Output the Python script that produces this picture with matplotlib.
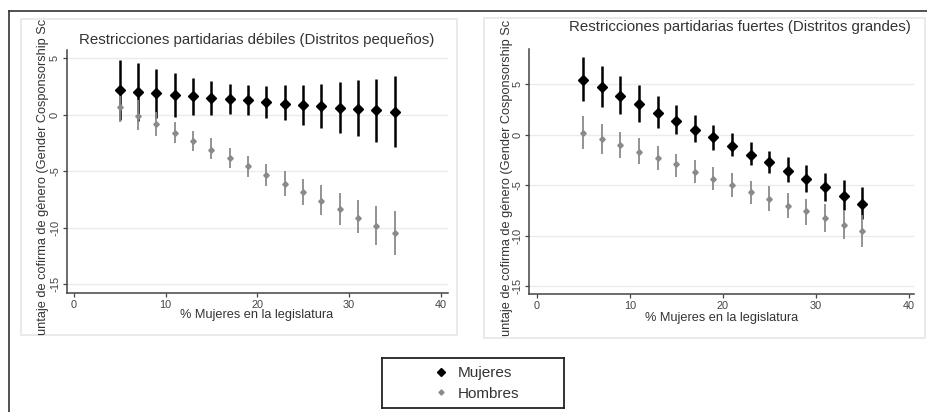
import matplotlib
matplotlib.use("Agg")
import matplotlib.pyplot as plt
from matplotlib.lines import Line2D
from matplotlib.patches import Rectangle

plt.rcParams['font.family'] = ['Liberation Sans', 'DejaVu Sans']
plt.rcParams['axes.unicode_minus'] = False

# ---------------- data ----------------
pct_mujeres = [5, 7, 9, 11, 13, 15, 17, 19, 21, 23, 25, 27, 29, 31, 33, 35]

left_muj = [2.17, 1.99, 1.90, 1.73, 1.64, 1.49, 1.40, 1.28, 1.16, 0.95, 0.86, 0.74, 0.65, 0.50, 0.39, 0.21]
left_muj_hi = [4.85, 4.55, 4.10, 3.66, 3.30, 3.00, 2.77, 2.68, 2.59, 2.68, 2.68, 2.77, 2.92, 3.07, 3.20, 3.48]
left_muj_lo = [-0.50, -0.57, -0.30, -0.20, 0.00, 0.00, 0.05, -0.05, -0.25, -0.50, -0.86, -1.19, -1.64, -1.90, -2.44, -2.83]

left_hom = [0.68, -0.06, -0.80, -1.60, -2.29, -3.07, -3.78, -4.49, -5.33, -6.10, -6.85, -7.59, -8.30, -9.10, -9.88, -10.50]
left_hom_hi = [2.10, 1.28, 0.24, -0.65, -1.46, -2.08, -2.95, -3.66, -4.32, -4.97, -5.65, -6.22, -6.90, -7.53, -8.10, -8.54]
left_hom_lo = [-0.65, -1.34, -1.85, -2.53, -3.24, -3.93, -4.67, -5.50, -6.34, -7.17, -8.00, -8.84, -9.73, -10.50, -11.50, -12.40]

right_muj = [5.46, 4.74, 3.87, 3.01, 2.15, 1.32, 0.50, -0.26, -1.16, -1.99, -2.72, -3.58, -4.37, -5.20, -6.06, -6.85]
right_muj_hi = [7.72, 6.79, 5.86, 4.93, 3.87, 2.95, 1.92, 0.96, 0.17, -0.76, -1.59, -2.25, -3.01, -3.77, -4.47, -5.20]
right_muj_lo = [3.38, 2.72, 2.05, 1.29, 0.63, 0.03, -0.70, -1.49, -2.15, -2.98, -3.81, -4.67, -5.66, -6.62, -7.50, -8.40]

right_hom = [0.17, -0.43, -1.06, -1.75, -2.35, -2.95, -3.71, -4.37, -5.03, -5.70, -6.36, -7.02, -7.58, -8.28, -9.00, -9.57]
right_hom_hi = [1.82, 1.03, 0.23, -0.36, -1.09, -1.89, -2.48, -3.15, -3.84, -4.54, -5.07, -5.73, -6.36, -6.85, -7.45, -7.95]
right_hom_lo = [-1.39, -1.92, -2.35, -2.95, -3.54, -4.20, -4.83, -5.53, -6.19, -6.85, -7.52, -8.24, -9.00, -9.67, -10.36, -11.16]

titles = ["Restricciones partidarias débiles (Distritos pequeños)",
          "Restricciones partidarias fuertes (Distritos grandes)"]
xlabel_text = "% Mujeres en la legislatura"
ylabel_text = "untaje de cofirma de género (Gender Cosponsorship Sc"
legend_labels = ["Mujeres", "Hombres"]
x_ticks = [0, 10, 20, 30, 40]
y_ticks = [-15, -10, -5, 0, 5]

# ---------------- layout ----------------
W, H = 927, 412
fig = plt.figure(figsize=(W / 100, H / 100), dpi=100)
fig.patch.set_facecolor('white')


def fx(x):
    return x / W


def fy(y):
    return 1 - y / H


BLACK = '#000000'
GRAY = '#8a8a8a'
TXT = '#333333'
AXC = '#444444'

panels = [
    dict(ax=(67, 50, 448, 293), xlim=(-0.76, 40.8), ylim=(-15.77, 5.74),
         frame=(21, 19, 457, 335), title_xy=(257, 40), xlabel_xy=(257, 315), ylabel_x=42.7,
         muj=(left_muj, left_muj_lo, left_muj_hi), hom=(left_hom, left_hom_lo, left_hom_hi)),
    dict(ax=(529.3, 49.3, 914.3, 294.3), xlim=(-0.8, 40.6), ylim=(-15.83, 8.48),
         frame=(484, 18.3, 925, 337.7), title_xy=(739.5, 26.7), xlabel_xy=(722, 318), ylabel_x=506.7,
         muj=(right_muj, right_muj_lo, right_muj_hi), hom=(right_hom, right_hom_lo, right_hom_hi)),
]

for i, p in enumerate(panels):
    x0, y0, x1, y1 = p['frame']
    fig.patches.append(Rectangle((fx(x0), fy(y1)), fx(x1) - fx(x0), fy(y0) - fy(y1),
                                 transform=fig.transFigure, fill=False,
                                 edgecolor='#e6e6e6', linewidth=1.2, zorder=0))
    a0, b0, a1, b1 = p['ax']
    ax = fig.add_axes([fx(a0), fy(b1), fx(a1) - fx(a0), fy(b0) - fy(b1)])
    ax.set_xlim(*p['xlim'])
    ax.set_ylim(*p['ylim'])
    ax.set_facecolor('none')
    for s in ['top', 'right']:
        ax.spines[s].set_visible(False)
    for s in ['left', 'bottom']:
        ax.spines[s].set_color(AXC)
        ax.spines[s].set_linewidth(1.1)
    ax.set_xticks(x_ticks)
    ax.set_yticks(y_ticks)
    ax.tick_params(axis='both', length=3, width=0.9, color=AXC, labelcolor='#444444')
    ax.tick_params(axis='y', labelrotation=90, pad=2, labelsize=8)
    ax.tick_params(axis='x', pad=2, labelsize=7.8)
    for lab in ax.get_yticklabels():
        lab.set_va('center')
    ax.yaxis.grid(True, color='#ebebeb', linewidth=1.0)
    ax.set_axisbelow(True)

    m, mlo, mhi = p['muj']
    h, hlo, hhi = p['hom']
    ax.vlines(pct_mujeres, mlo, mhi, color=BLACK, linewidth=1.8, zorder=2)
    ax.vlines(pct_mujeres, hlo, hhi, color=GRAY, linewidth=1.3, zorder=3)
    ax.plot(pct_mujeres, m, linestyle='none', marker='D', markersize=4.6,
            color=BLACK, zorder=4, label=legend_labels[0])
    ax.plot(pct_mujeres, h, linestyle='none', marker='D', markersize=2.8,
            color=GRAY, zorder=5, label=legend_labels[1])

    tx, ty = p['title_xy']
    fig.text(fx(tx), fy(ty), titles[i], ha='center', va='center', fontsize=10.8, color=TXT)
    lx, ly = p['xlabel_xy']
    fig.text(fx(lx), fy(ly), xlabel_text, ha='center', va='center', fontsize=9.2, color=TXT)
    fig.text(fx(p['ylabel_x']), (fy(y0) + fy(y1)) / 2, ylabel_text, rotation=90,
             ha='center', va='center', fontsize=9.2, color=TXT)

# outer dark border lines
fig.lines.append(Line2D([fx(9), fx(9)], [fy(11), 0], transform=fig.transFigure, color='#333333', linewidth=1.2))
fig.lines.append(Line2D([fx(9), 1], [fy(11), fy(11)], transform=fig.transFigure, color='#333333', linewidth=1.2))

# legend box
lax = fig.add_axes([fx(382.3), fy(408.3), fx(564.3) - fx(382.3), fy(358.3) - fy(408.3)])
lax.set_xticks([])
lax.set_yticks([])
for s in lax.spines.values():
    s.set_color('#222222')
    s.set_linewidth(1.3)
lh1 = Line2D([], [], linestyle='none', marker='D', markersize=4.2, color=BLACK)
lh2 = Line2D([], [], linestyle='none', marker='D', markersize=2.6, color=GRAY)
leg = lax.legend([lh1, lh2], legend_labels, loc='center left', bbox_to_anchor=(0.28, 0.5),
                 frameon=False, fontsize=11, handlelength=1.0, handletextpad=0.6,
                 labelspacing=0.42, borderpad=0, borderaxespad=0)
for t in leg.get_texts():
    t.set_color(TXT)

fig.savefig('out.png', dpi=100)
